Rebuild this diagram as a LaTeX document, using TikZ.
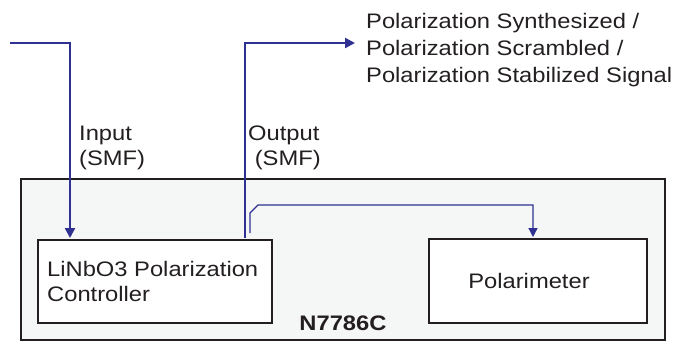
\documentclass[tikz,border=0pt]{standalone}
\usepackage{fontspec}
\setmainfont{Liberation Sans}[FakeStretch=1.13]
\usetikzlibrary{arrows.meta}
\definecolor{fib}{HTML}{2E3192}
\definecolor{boxbg}{HTML}{F5F6F6}
\definecolor{txt}{HTML}{231F20}
\begin{document}
\begin{tikzpicture}[x=1pt,y=-1pt,
  fiber/.style={draw=fib,line width=2.2pt,-{Triangle[length=10pt,width=10pt]}},
  thinfiber/.style={draw=fib,line width=1.3pt,-{Triangle[length=9pt,width=9pt]}},
  blk/.style={draw=txt,line width=2.4pt,fill=white},
  lbl/.style={text=txt,font=\fontsize{21}{25}\selectfont,inner sep=0pt}]
\useasboundingbox (0,0) rectangle (684,343);
\draw[draw=txt,line width=2.4pt,fill=boxbg] (21,179) rectangle (665,340);
\node[blk,minimum width=234pt,minimum height=83pt,anchor=north west] (pc) at (37,239) {};
\node[lbl,anchor=base west,align=left] at (47,301) {LiNbO3 Polarization\\Controller};
\node[blk,minimum width=218pt,minimum height=84pt,anchor=north west] (pm) at (428,238) {};
\node[lbl,anchor=base] at (529,288) {Polarimeter};
\node[lbl,anchor=base,font=\bfseries\fontsize{21}{25}\selectfont] (n) at (343,330) {N7786C};
\coordinate (in0) at (10,43);
\coordinate (out1) at (355,43);
\draw[fiber] (in0) -- (70,43) -- (70,238);
\draw[fiber] (245,238) -- (245,43) -- (out1);
\draw[thinfiber] (250,233) -- (250,213) -- (258,205) -- (533,205) -- (533,237);
\node[lbl,anchor=base west,align=left] at (79,165) {Input\\(SMF)};
\node[lbl,anchor=base west,align=left] at (248,165) {Output\\\ (SMF)};
\node[lbl,anchor=base west,align=left,font=\fontsize{21}{27}\selectfont] at (366,82) {Polarization Synthesized /\\Polarization Scrambled /\\Polarization Stabilized Signal};
\end{tikzpicture}
\end{document}
